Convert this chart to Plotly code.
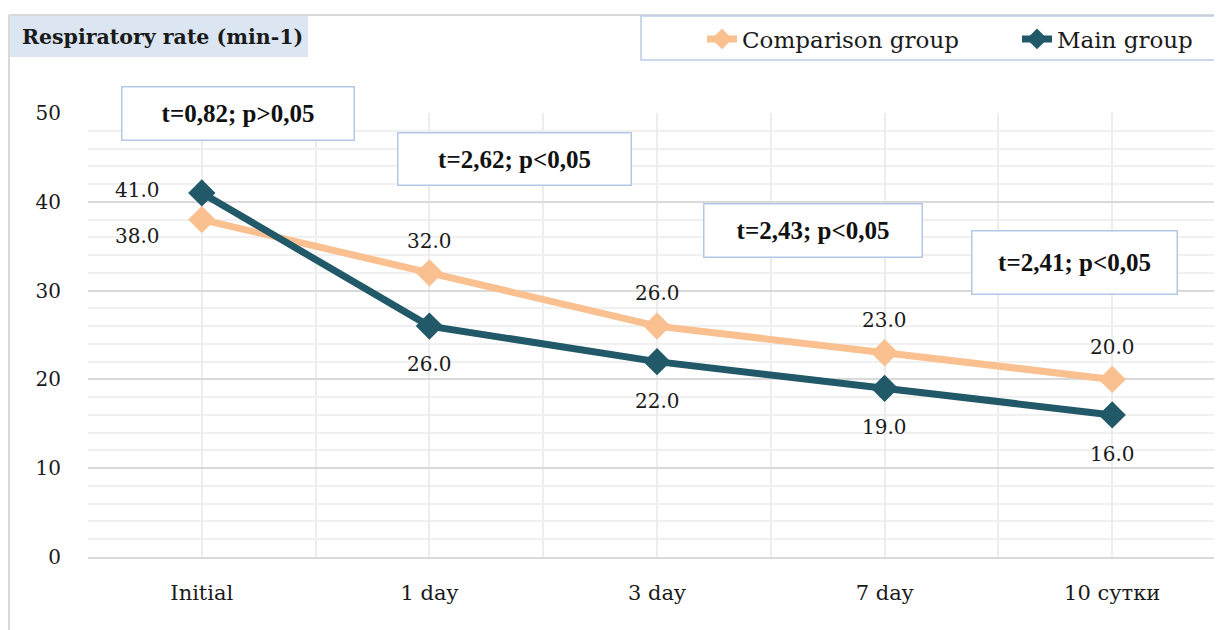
import plotly.graph_objects as go

categories = ["Initial", "1 day", "3 day", "7 day", "10 сутки"]
comparison = [38.0, 32.0, 26.0, 23.0, 20.0]
main = [41.0, 26.0, 22.0, 19.0, 16.0]
stats = ["t=0,82; p>0,05", "t=2,62; p<0,05", "t=2,43; p<0,05", "t=2,41; p<0,05"]
title = "Respiratory rate (min-1)"

W, H = 1222, 630
OFF = 8  # page body margin
L, R, T, B = 88 - OFF, 1226 - OFF, 113 - OFF, 557 - OFF
PW, PH = R - L, B - T

def px(x):  # screen px -> paper
    return (x - OFF - L) / PW

def py(y):
    return (B - (y - OFF)) / PH

xs = list(range(len(categories)))
SERIF = "DejaVu Serif"
ORANGE = "#FAC090"
TEAL = "#215968"

fig = go.Figure()
for name, vals, col in [("Comparison group", comparison, ORANGE), ("Main group", main, TEAL)]:
    fig.add_trace(go.Scatter(
        x=xs, y=vals, name=name, mode="lines+markers",
        line=dict(color=col, width=7),
        marker=dict(symbol="diamond", size=21, color=col),
        cliponaxis=False,
    ))

annotations = []
comp_off = [(-64, -16), (0, 32), (0, 33), (0, 33), (0, 32)]
main_off = [(-64, 3), (0, -38), (0, -39), (0, -39), (0, -39)]
for vals, offs in [(comparison, comp_off), (main, main_off)]:
    for xi, v, (dx, dy) in zip(xs, vals, offs):
        annotations.append(dict(
            x=xi, y=v, xref="x", yref="y", text=f"{v:.1f}", showarrow=False,
            xshift=dx, yshift=dy, xanchor="center", yanchor="middle",
            font=dict(family=SERIF, size=20, color="#1a1a1a")))

shapes = [
    dict(type="line", xref="paper", yref="paper", x0=px(9), x1=px(9), y0=py(15), y1=py(660),
         line=dict(color="#D9D9D9", width=2)),
    dict(type="line", xref="paper", yref="paper", x0=px(9), x1=px(1260), y0=py(15), y1=py(15),
         line=dict(color="#D9D9D9", width=2)),
    dict(type="rect", xref="paper", yref="paper", x0=px(10), x1=px(308), y0=py(16), y1=py(57),
         fillcolor="#DCE6F2", line=dict(width=0), layer="below"),
    dict(type="rect", xref="paper", yref="paper", x0=px(641), x1=px(1260), y0=py(16), y1=py(60),
         fillcolor="rgba(0,0,0,0)", line=dict(color="#B9CDE5", width=1.5)),
]

annotations.append(dict(text=f"<b>{title}</b>", xref="paper", yref="paper", x=px(20), y=py(37),
                        xanchor="left", yanchor="middle", showarrow=False,
                        font=dict(family=SERIF, size=20.5, color="#1a1a1a")))

boxes = [(122, 353, 88, 140), (398, 630, 133, 184), (704, 921, 204, 256), (972, 1176, 231, 293)]
for s, (x0, x1, y0, y1) in zip(stats, boxes):
    annotations.append(dict(
        text=f"<b>{s}</b>", xref="paper", yref="paper",
        x=px((x0 + x1) / 2), y=py((y0 + y1) / 2), xanchor="center", yanchor="middle",
        showarrow=False, width=x1 - x0, height=y1 - y0, borderpad=0,
        bordercolor="#B4C7E7", borderwidth=1.5, bgcolor="white",
        font=dict(family="Liberation Serif", size=25, color="#111111")))

fig.update_layout(
    width=W, height=H,
    margin=dict(l=L, r=W - R, t=T, b=H - B, autoexpand=False),
    paper_bgcolor="white", plot_bgcolor="white",
    showlegend=True,
    legend=dict(orientation="h", xref="container", yref="container",
                x=(702 - OFF) / W, y=1 - (39 - OFF) / H, xanchor="left", yanchor="middle",
                font=dict(family=SERIF, size=23, color="#1a1a1a"),
                bgcolor="rgba(0,0,0,0)", entrywidth=270, tracegroupgap=0),
    shapes=shapes, annotations=annotations,
    xaxis=dict(range=[-0.5, 4.5], tickvals=xs, ticktext=categories,
               showgrid=True, gridcolor="#EDEDED", gridwidth=1.5,
               minor=dict(dtick=0.5, tick0=-0.5, showgrid=True, gridcolor="#EDEDED", gridwidth=1.5),
               showline=True, linecolor="#D9D9D9", linewidth=2, zeroline=False,
               ticks="", ticklabelstandoff=16,
               tickfont=dict(family=SERIF, size=21, color="#1a1a1a")),
    yaxis=dict(range=[0, 50], dtick=10, showgrid=True, gridcolor="#D9D9D9", gridwidth=1.5,
               minor=dict(dtick=2, showgrid=True, gridcolor="#F0F0F0", gridwidth=1.5),
               zeroline=False, showline=False, ticks="", ticklabelstandoff=26,
               tickfont=dict(family=SERIF, size=20, color="#1a1a1a")),
)

fig.write_html("out.html")
